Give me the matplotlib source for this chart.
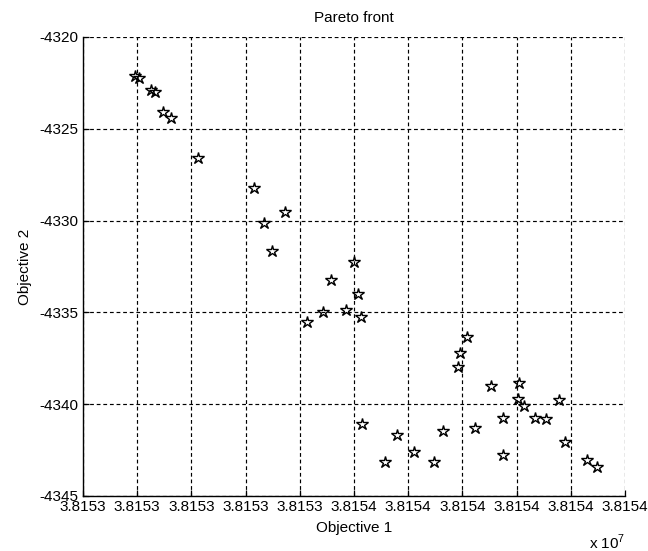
import matplotlib
matplotlib.use('Agg')
import matplotlib.pyplot as plt
import numpy as np

plt.rcParams['font.family'] = ['Liberation Sans', 'DejaVu Sans']
plt.rcParams['font.size'] = 11
plt.rcParams['axes.unicode_minus'] = False
plt.rcParams['mathtext.fontset'] = 'custom'
plt.rcParams['mathtext.rm'] = 'Liberation Sans'

# Pareto front points (objective 1 raw values, objective 2)
obj1 = [38153096, 38153103, 38153125, 38153133, 38153148, 38153162, 38153213,
        38153316, 38153373, 38153334, 38153348, 38153500, 38153457, 38153507,
        38153443, 38153485, 38153414, 38153512, 38153708, 38153696, 38153691,
        38153515, 38153580, 38153558, 38153611, 38153664, 38153648, 38153723,
        38153752, 38153805, 38153803, 38153814, 38153879, 38153775, 38153834,
        38153854, 38153890, 38153775, 38153929, 38153948]
obj2 = [-4322.11, -4322.25, -4322.89, -4323.01, -4324.10, -4324.43, -4326.61,
        -4328.22, -4329.55, -4330.13, -4331.64, -4332.27, -4333.22, -4334.01,
        -4334.96, -4334.87, -4335.51, -4335.23, -4336.36, -4337.21, -4337.99,
        -4341.06, -4341.66, -4343.16, -4342.59, -4341.46, -4343.16, -4341.30,
        -4338.99, -4338.86, -4339.72, -4340.11, -4339.77, -4340.77, -4340.77,
        -4340.81, -4342.07, -4342.75, -4343.02, -4343.44]

xticks = np.arange(38153000, 38154001, 100)
xticklabels = ['3.8153'] * 5 + ['3.8154'] * 6
yticks = [-4345, -4340, -4335, -4330, -4325, -4320]

fig = plt.figure(figsize=(6.48, 5.51), dpi=100)
ax = fig.add_axes([83 / 648, 1 - 496 / 551, 542 / 648, 459 / 551])

ax.plot(obj1, obj2, linestyle='none', marker='*', markersize=9,
        markerfacecolor='none', markeredgecolor='black', markeredgewidth=1.0,
        clip_on=False)

ax.set_xlim(38153000, 38154000)
ax.set_ylim(-4345, -4320)
ax.set_xticks(xticks)
ax.set_xticklabels(xticklabels)
ax.set_yticks(yticks)
ax.tick_params(labelsize=11)

ax.grid(True, color='black', linestyle=(0, (3.2, 2.4)), linewidth=0.85)
ax.spines['top'].set_visible(False)
ax.spines['right'].set_visible(False)
for s in ['left', 'bottom']:
    ax.spines[s].set_linewidth(1.0)
ax.tick_params(direction='in', length=4, width=0.9, pad=3)

ax.set_title('Pareto front', fontsize=11, pad=11)
ax.set_xlabel('Objective 1', labelpad=5)
ax.set_ylabel('Objective 2', labelpad=6)
fig.text(607 / 648, 1 - 542 / 551, r'x 10$^7$', ha='center', va='center',
         fontsize=11)

fig.savefig('out.png', dpi=100)
